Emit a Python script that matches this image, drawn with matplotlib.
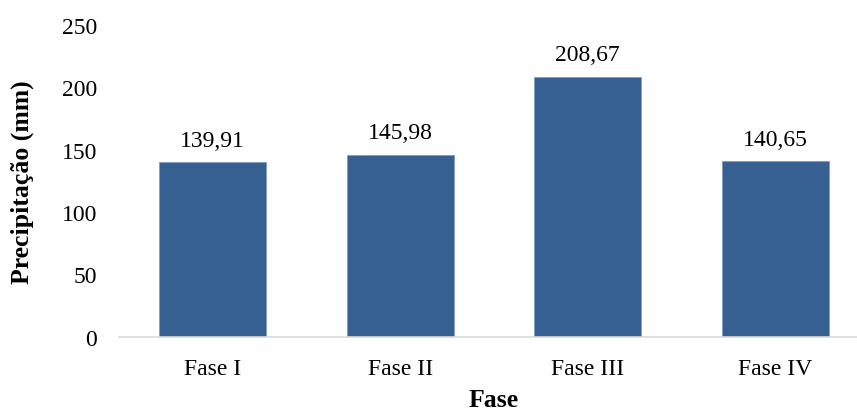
import matplotlib.pyplot as plt

# precipitation per phase (mm)
fases = ['Fase I', 'Fase II', 'Fase III', 'Fase IV']
precip = [139.91, 145.98, 208.67, 140.65]
yticks = [0, 50, 100, 150, 200, 250]

plt.rcParams['font.family'] = ['Liberation Serif', 'DejaVu Serif']

fig = plt.figure(figsize=(8.57, 4.14), dpi=100)
ax = fig.add_axes([0.139, 0.184, 0.875, 0.753])

x = range(len(fases))
bars = ax.bar(x, precip, width=0.57, color='#376092', edgecolor='#7f9cc0', linewidth=0.6, zorder=2)

for b, v in zip(bars, precip):
    ax.annotate(f'{v:.2f}'.replace('.', ','), (b.get_x() + b.get_width() / 2, v),
                xytext=(0, 8.5), textcoords='offset points', ha='center', va='bottom', fontsize=17)

ax.set_xlim(-0.5, len(fases) - 0.5)
ax.set_ylim(0, 250)
ax.set_yticks(yticks)
ax.set_xticks(list(x))
ax.set_xticklabels(fases)
ax.tick_params(axis='both', length=0, labelsize=17)
ax.tick_params(axis='y', pad=16)
ax.tick_params(axis='x', pad=15)

for s in ['top', 'right', 'left']:
    ax.spines[s].set_visible(False)
ax.spines['bottom'].set_color('#d9d9d9')
ax.spines['bottom'].set_linewidth(1.2)

ax.set_ylabel('Precipitação (mm)', fontsize=18.5, fontweight='bold', labelpad=20)
ax.set_xlabel('Fase', fontsize=18.5, fontweight='bold', labelpad=6.5)

fig.savefig('out.png', dpi=100)
